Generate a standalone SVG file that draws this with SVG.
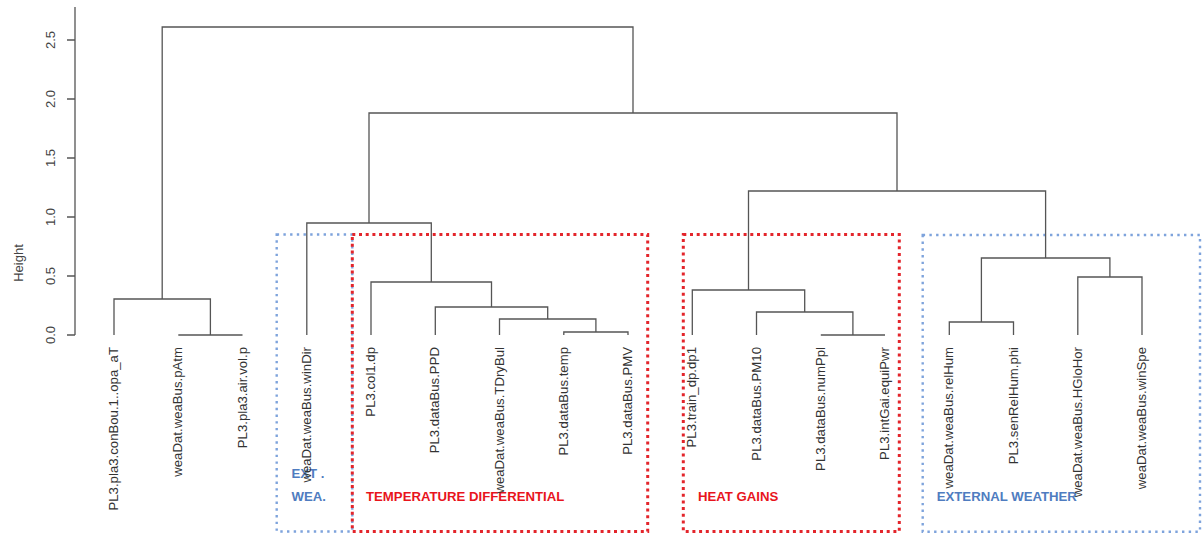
<svg xmlns="http://www.w3.org/2000/svg" width="1202" height="533" viewBox="0 0 1202 533">
<style>
.bg{fill:#ffffff}
.ax{stroke:#555;stroke-width:1.3;fill:none}
.tk{font-family:"Liberation Sans",Arial,sans-serif;font-size:13px;fill:#444;text-anchor:middle}
.lf{font-family:"Liberation Sans",Arial,sans-serif;font-size:13.2px;fill:#333;text-anchor:end}
.ln{stroke:#555;stroke-width:1.3;fill:none}
.bx-r{fill:none;stroke:#e3252b;stroke-width:3;stroke-dasharray:3 3.7}
.bx-b{fill:none;stroke:#7ea3dc;stroke-width:2.4;stroke-dasharray:2.4 4.3}
.gl-r{font-family:"Liberation Sans",Arial,sans-serif;font-size:13.2px;font-weight:bold;fill:#e8141c}
.gl-b{font-family:"Liberation Sans",Arial,sans-serif;font-size:13.2px;font-weight:bold;fill:#4f7cc0}
</style>
<rect class="bg" x="0" y="0" width="1202" height="533"/>

<g id="axis">
<path class="ax" d="M75 7V335M67 335H75M67 276H75M67 217H75M67 158H75M67 99H75M67 40H75"/>
<text class="tk" transform="translate(55 335) rotate(-90)">0.0</text>
<text class="tk" transform="translate(55 276) rotate(-90)">0.5</text>
<text class="tk" transform="translate(55 217) rotate(-90)">1.0</text>
<text class="tk" transform="translate(55 158) rotate(-90)">1.5</text>
<text class="tk" transform="translate(55 99) rotate(-90)">2.0</text>
<text class="tk" transform="translate(55 40) rotate(-90)">2.5</text>
<text class="tk" transform="translate(23 263) rotate(-90)">Height</text>
</g>

<g id="box-ext-wea">
<rect class="bx-b" x="276.7" y="234.5" width="75.6" height="297"/>
<text class="gl-b" x="291.5" y="478">EXT .</text>
<text class="gl-b" x="291.5" y="500.5">WEA.</text>
</g>
<g id="box-temperature-differential">
<rect class="bx-r" x="352.3" y="234.5" width="295.4" height="297"/>
<text class="gl-r" x="366" y="500.5">TEMPERATURE DIFFERENTIAL</text>
</g>
<g id="box-heat-gains">
<rect class="bx-r" x="683.3" y="234.5" width="216" height="297"/>
<text class="gl-r" x="698" y="501">HEAT GAINS</text>
</g>
<g id="box-external-weather">
<rect class="bx-b" x="922.7" y="235" width="277.3" height="296.7"/>
<text class="gl-b" x="936.7" y="500.5">EXTERNAL WEATHER</text>
</g>

<g id="connectors">
<path class="ln" d="M178.3 335H242.5"/>
<path class="ln" d="M114 335V299H210.4V335"/>
<path class="ln" d="M563.8 335V332H628V335"/>
<path class="ln" d="M499.5 335V319H595.9V332"/>
<path class="ln" d="M435.3 335V307H547.7V319"/>
<path class="ln" d="M371 335V282H491.5V307"/>
<path class="ln" d="M306.8 335V223H431.3V282"/>
<path class="ln" d="M820.8 335H885"/>
<path class="ln" d="M756.5 335V312H852.9V335"/>
<path class="ln" d="M692.3 335V290H804.7V312"/>
<path class="ln" d="M949.3 335V322H1013.5V335"/>
<path class="ln" d="M1077.8 335V277H1142V335"/>
<path class="ln" d="M981.4 322V258H1109.9V277"/>
<path class="ln" d="M748.5 290V191H1045.6V258"/>
<path class="ln" d="M369 223V113H897V191"/>
<path class="ln" d="M162.2 299V27H633V113"/>
</g>

<g id="leaf-0"><text class="lf" transform="translate(118 347) rotate(-90)">PL3.pla3.conBou.1..opa_aT</text></g>
<g id="leaf-1"><text class="lf" transform="translate(182.3 347) rotate(-90)">weaDat.weaBus.pAtm</text></g>
<g id="leaf-2"><text class="lf" transform="translate(246.5 347) rotate(-90)">PL3.pla3.air.vol.p</text></g>
<g id="leaf-3"><text class="lf" transform="translate(310.8 347) rotate(-90)">weaDat.weaBus.winDir</text></g>
<g id="leaf-4"><text class="lf" transform="translate(375 347) rotate(-90)">PL3.col1.dp</text></g>
<g id="leaf-5"><text class="lf" transform="translate(439.3 347) rotate(-90)">PL3.dataBus.PPD</text></g>
<g id="leaf-6"><text class="lf" transform="translate(503.5 347) rotate(-90)">weaDat.weaBus.TDryBul</text></g>
<g id="leaf-7"><text class="lf" transform="translate(567.8 347) rotate(-90)">PL3.dataBus.temp</text></g>
<g id="leaf-8"><text class="lf" transform="translate(632 347) rotate(-90)">PL3.dataBus.PMV</text></g>
<g id="leaf-9"><text class="lf" transform="translate(696.3 347) rotate(-90)">PL3.train_dp.dp1</text></g>
<g id="leaf-10"><text class="lf" transform="translate(760.5 347) rotate(-90)">PL3.dataBus.PM10</text></g>
<g id="leaf-11"><text class="lf" transform="translate(824.8 347) rotate(-90)">PL3.dataBus.numPpl</text></g>
<g id="leaf-12"><text class="lf" transform="translate(889 347) rotate(-90)">PL3.intGai.equiPwr</text></g>
<g id="leaf-13"><text class="lf" transform="translate(953.3 347) rotate(-90)">weaDat.weaBus.relHum</text></g>
<g id="leaf-14"><text class="lf" transform="translate(1017.5 347) rotate(-90)">PL3.senRelHum.phi</text></g>
<g id="leaf-15"><text class="lf" transform="translate(1081.8 347) rotate(-90)">weaDat.weaBus.HGloHor</text></g>
<g id="leaf-16"><text class="lf" transform="translate(1146 347) rotate(-90)">weaDat.weaBus.winSpe</text></g>
</svg>
